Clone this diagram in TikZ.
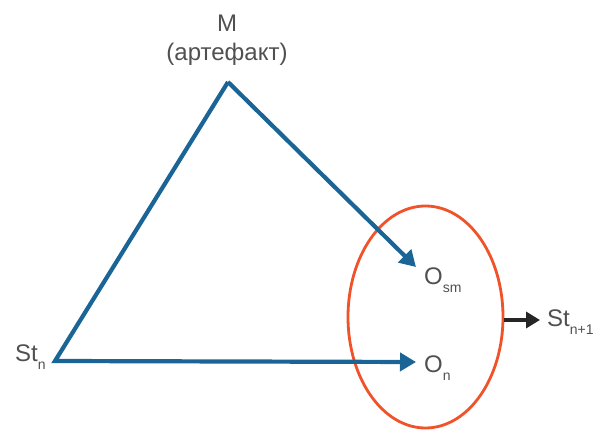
\documentclass[tikz,border=0pt]{standalone}
\usepackage{fontspec}
\setmainfont{Liberation Sans}
\usepackage{tikz}
\usetikzlibrary{arrows.meta,calc,positioning,shapes.geometric}
\usepackage{xcolor}

\definecolor{flowblue}{HTML}{1A6596}
\definecolor{ringred}{HTML}{F0522A}
\definecolor{labgray}{HTML}{505050}

% lowered index, as in St_n
\newcommand{\lowidx}[1]{\raisebox{-8pt}{\fontsize{14}{14}\selectfont #1}}

\begin{document}
\begin{tikzpicture}[x=1pt,y=-1pt,>=Stealth,
  lbl/.style={inner sep=0pt,text=labgray,font=\fontsize{24}{29}\selectfont},
  flow/.style={draw=flowblue,line width=4.2pt,line join=miter,
    -{Triangle[length=16pt,width=18pt]}},
  outflow/.style={draw=black!85,line width=4.2pt,
    -{Triangle[length=14pt,width=16pt]}}]

\useasboundingbox (0,0) rectangle (595,430);

% --- triangle corners and arrow tips ---
\coordinate (top)     at (228,82);
\coordinate (base)    at (55,361);
\coordinate (osmtip)  at (416,267);
\coordinate (ontip)   at (416,362);
\coordinate (nexttip) at (540,320);

% --- labels ---
\node[lbl,align=center,anchor=north] (m) at (227,15) {M\\(артефакт)};
\node[lbl,anchor=base west] (st)   at (15,362)  {St\lowidx{n}};
\node[lbl,anchor=base west] (osm)  at (424,285) {O\lowidx{sm}};
\node[lbl,anchor=base west] (on)   at (424,373) {O\lowidx{n}};
\node[lbl,anchor=base west] (next) at (547,327) {St\lowidx{n+1}};

% --- result set ---
\node[ellipse,draw=ringred,line width=2.8pt,minimum width=155pt,
  minimum height=222pt,inner sep=0pt] (ring) at (425.5,317) {};

% --- connectors ---
\draw[flow] (top) -- (base) -- (ontip);
\draw[flow] (top) -- (osmtip);
\draw[outflow] (ring.east |- nexttip) -- (nexttip);

\end{tikzpicture}
\end{document}
